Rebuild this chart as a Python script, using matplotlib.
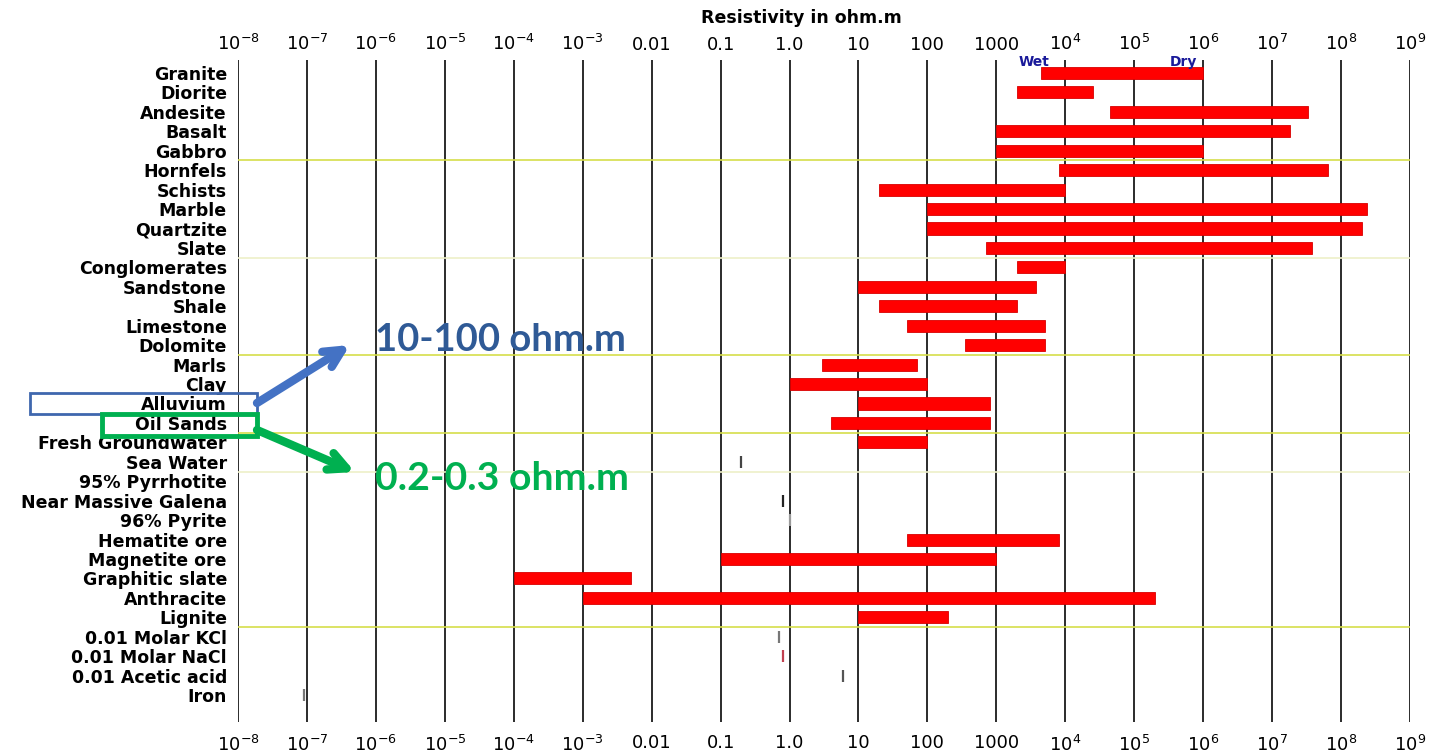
import numpy as np
import matplotlib.pyplot as plt
from matplotlib.patches import Rectangle

plt.rcParams['font.family'] = ['DejaVu Sans']
plt.rcParams['mathtext.default'] = 'regular'

# rows, top to bottom
materials = ['Granite', 'Diorite', 'Andesite', 'Basalt', 'Gabbro', 'Hornfels', 'Schists',
             'Marble', 'Quartzite', 'Slate', 'Conglomerates', 'Sandstone', 'Shale',
             'Limestone', 'Dolomite', 'Marls', 'Clay', 'Alluvium', 'Oil Sands',
             'Fresh Groundwater', 'Sea Water', '95% Pyrrhotite', 'Near Massive Galena',
             '96% Pyrite', 'Hematite ore', 'Magnetite ore', 'Graphitic slate', 'Anthracite',
             'Lignite', '0.01 Molar KCl', '0.01 Molar NaCl', '0.01 Acetic acid', 'Iron']

# resistivity ranges (ohm.m)
bar_names = ['Granite', 'Diorite', 'Andesite', 'Basalt', 'Gabbro', 'Hornfels', 'Schists',
             'Marble', 'Quartzite', 'Slate', 'Conglomerates', 'Sandstone', 'Shale',
             'Limestone', 'Dolomite', 'Marls', 'Clay', 'Alluvium', 'Oil Sands',
             'Fresh Groundwater', 'Hematite ore', 'Magnetite ore', 'Graphitic slate',
             'Anthracite', 'Lignite']
bar_low = [4.5e3, 2e3, 4.5e4, 1e3, 1e3, 8e3, 20, 100, 100, 700, 2e3, 10, 20,
           50, 350, 3, 1, 10, 4, 10, 50, 0.1, 1e-4, 1e-3, 10]
bar_high = [1e6, 2.5e4, 3.3e7, 1.8e7, 1e6, 6.5e7, 1e4, 2.4e8, 2e8, 3.8e7, 1e4, 3.8e3, 2e3,
            5e3, 5e3, 70, 100, 800, 800, 100, 8e3, 1e3, 5e-3, 2e5, 200]

# single values drawn as small ticks
point_names = ['Sea Water', 'Near Massive Galena', '96% Pyrite', '0.01 Molar KCl',
               '0.01 Molar NaCl', '0.01 Acetic acid', 'Iron']
point_values = [0.2, 0.8, 1.0, 0.7, 0.8, 6, 9e-8]
point_colors = ['#444444', '#222222', '#999999', '#777777', '#c04050', '#555555', '#777777']

# group separators (after these rows)
sep_after = ['Gabbro', 'Slate', 'Dolomite', 'Oil Sands', 'Sea Water', 'Lignite']
sep_faint = ['Slate', 'Sea Water']

tick_vals = 10.0 ** np.arange(-8, 10)
tick_labels = ['10$^{-8}$', '10$^{-7}$', '10$^{-6}$', '10$^{-5}$', '10$^{-4}$', '10$^{-3}$',
               '0.01', '0.1', '1.0', '10', '100', '1000', '10$^{4}$', '10$^{5}$', '10$^{6}$',
               '10$^{7}$', '10$^{8}$', '10$^{9}$']

W, H = 1443, 756
fig = plt.figure(figsize=(W / 100, H / 100), dpi=100)
ax = fig.add_axes([238 / W, 1 - 722 / H, (1410 - 238) / W, (722 - 60) / H])

ypos = {m: i for i, m in enumerate(materials)}

ax.set_xscale('log')
ax.set_xlim(1e-8, 1e9)
ax.set_ylim((722 - 73) / 19.44, (60 - 73) / 19.44)

for v in tick_vals:
    ax.axvline(v, color='#1a1a1a', lw=1.3, zorder=1)

for name in sep_after:
    c = '#eef0c8' if name in sep_faint else '#d6de4a'
    ax.axhline(ypos[name] + 0.5, color=c, lw=1.2, zorder=1)

yb = [ypos[n] for n in bar_names]
widths = np.array(bar_high) - np.array(bar_low)
ax.barh(yb, widths, left=bar_low, height=0.62, color='#ff0000',
        edgecolor='#d80000', lw=0.6, zorder=3)

for n, v, c in zip(point_names, point_values, point_colors):
    ax.plot([v], [ypos[n]], marker='|', ms=9, mew=1.6, color=c, zorder=3)

ax.set_yticks(range(len(materials)))
ax.set_yticklabels(materials, fontsize=12.5, fontweight='bold')
ax.set_xticks(tick_vals)
ax.set_xticklabels(tick_labels, fontsize=13)
ax.minorticks_off()
ax.tick_params(axis='x', which='both', length=0, top=False, bottom=False, pad=9)
ax.tick_params(axis='y', length=0, pad=8)
for s in ax.spines.values():
    s.set_visible(False)

top = ax.secondary_xaxis('top')
top.set_xticks(tick_vals)
top.set_xticklabels(tick_labels, fontsize=13)
top.minorticks_off()
top.tick_params(axis='x', which='both', length=0, pad=4)
top.spines['top'].set_visible(False)

ax.text(3.5e3, -0.55, 'Wet', color='#1a1a9a', fontsize=10, fontweight='bold',
        ha='center', va='center')
ax.text(5.2e5, -0.55, 'Dry', color='#1a1a9a', fontsize=10, fontweight='bold',
        ha='center', va='center')

fig.text(801 / W, 1 - 18 / H, 'Resistivity in ohm.m', fontsize=12.5, fontweight='bold',
         ha='center', va='center')

# callouts
def fx(p):
    return p / W

def fy(p):
    return 1 - p / H

blue = '#4472C4'
green = '#00B050'
fig.patches.append(Rectangle((fx(30), fy(414)), fx(257) - fx(30), fy(393) - fy(414),
                             transform=fig.transFigure, fill=False, ec='#3F67AE', lw=2))
fig.patches.append(Rectangle((fx(102), fy(436)), fx(257) - fx(102), fy(414) - fy(436),
                             transform=fig.transFigure, fill=False, ec=green, lw=3.5))
fig.add_artist(plt.Annotation('', xy=(fx(350), fy(345)), xytext=(fx(257), fy(403)),
                              xycoords='figure fraction', textcoords='figure fraction',
                              arrowprops=dict(arrowstyle='->', lw=6, color=blue,
                                              mutation_scale=32, shrinkA=0, shrinkB=0)))
fig.add_artist(plt.Annotation('', xy=(fx(355), fy(472)), xytext=(fx(257), fy(430)),
                              xycoords='figure fraction', textcoords='figure fraction',
                              arrowprops=dict(arrowstyle='->', lw=6, color=green,
                                              mutation_scale=32, shrinkA=0, shrinkB=0)))
fig.text(fx(375), fy(340), '10-100 ohm.m', fontsize=27.5, fontweight='bold',
         color='#2F5A96', family='Lato', ha='left', va='center')
fig.text(fx(375), fy(478), '0.2-0.3 ohm.m', fontsize=28.3, fontweight='bold',
         color=green, family='Lato', ha='left', va='center')

fig.savefig('out.png', dpi=100)
